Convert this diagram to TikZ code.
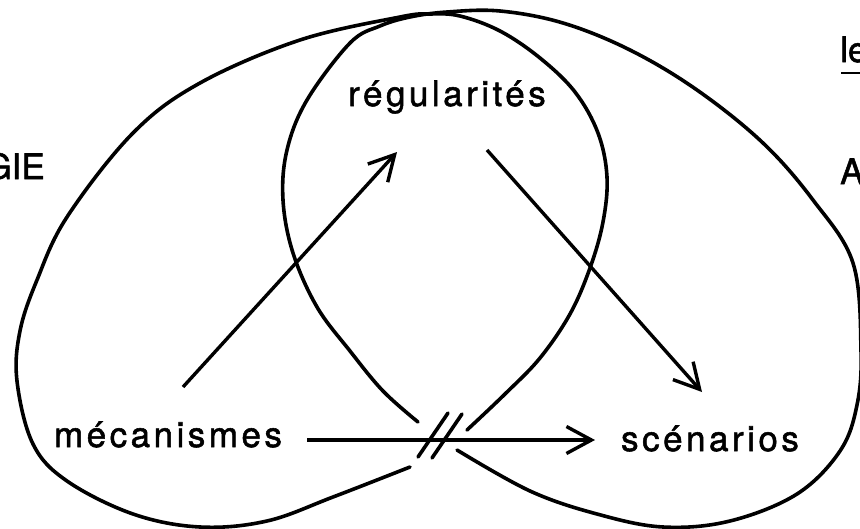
\documentclass[tikz,border=0pt]{standalone}
\usepackage{fontspec}
\newfontfamily\lab[LetterSpace=10, FakeBold=1.5]{TeX Gyre Heros}
\newfontfamily\labplain[FakeBold=1.5]{TeX Gyre Heros}
\usetikzlibrary{arrows.meta}
\begin{document}
\begin{tikzpicture}[x=1pt,y=-1pt,
  loopline/.style={line width=3.6pt, line cap=round, line join=round},
  conn/.style={line width=3.4pt, -{Straight Barb[length=25pt,width=27pt]}},
  hash/.style={line width=3.6pt, line cap=round},
  lbl/.style={font=\fontsize{35}{42}\selectfont\lab, inner sep=0pt, anchor=base},
  side/.style={font=\fontsize{35}{42}\selectfont\labplain, inner sep=0pt}]
\useasboundingbox (0,0) rectangle (860,528);

% left loop
\draw[loopline] plot[smooth, tension=0.6] coordinates {(467,430) (505,394) (540,358) (570,314) (590,268) (603,222) (607,177) (598,133) (575,92) (540,58) (500,31) (460,16) (430,14) (400,17) (300,40) (200,83) (133,133) (67,217) (37,280) (20,331) (17,381) (33,444) (67,481) (133,514) (200,527) (267,521) (333,497) (410,467)};
% right loop
\draw[loopline] plot[smooth, tension=0.6] coordinates {(457,450) (530,491) (597,514) (663,527) (730,521) (797,494) (840,451) (857,405) (861,350) (853,263) (813,200) (763,143) (697,90) (630,50) (563,23) (500,11) (447,12) (410,17) (380,26) (350,43) (307,100) (287,150) (283,200) (293,253) (317,307) (350,351) (383,391) (418,422)};

% labels
\node[lbl] (reg) at (447,106) {régularités};
\node[lbl] (mec) at (168,447) {mécanismes};
\node[lbl] (sce) at (710,451) {scénarios};
\node[side, anchor=base east] (gie) at (45,179) {GIE};
\node[side, anchor=base west] (a) at (840,184) {A};
\node[side, anchor=base west] (le) at (840,62) {le};
\draw[line width=2pt] (le.base west) ++(1,11) -- ++(30,0);

% connector ends
\coordinate (mecA) at (183,387);
\coordinate (regA) at (397,152);
\coordinate (regB) at (487,150);
\coordinate (sceB) at (702,392);
\coordinate (mecC) at (307,440);
\coordinate (sceC) at (595,440);
\draw[conn] (mecA) -- (regA);
\draw[conn] (regB) -- (sceB);
\draw[conn] (mecC) -- (sceC);

% break marks
\coordinate (h1a) at (418,457); \coordinate (h1b) at (448,413);
\coordinate (h2a) at (432,458); \coordinate (h2b) at (462,414);
\draw[hash] (h1a) -- (h1b);
\draw[hash] (h2a) -- (h2b);
\end{tikzpicture}
\end{document}
